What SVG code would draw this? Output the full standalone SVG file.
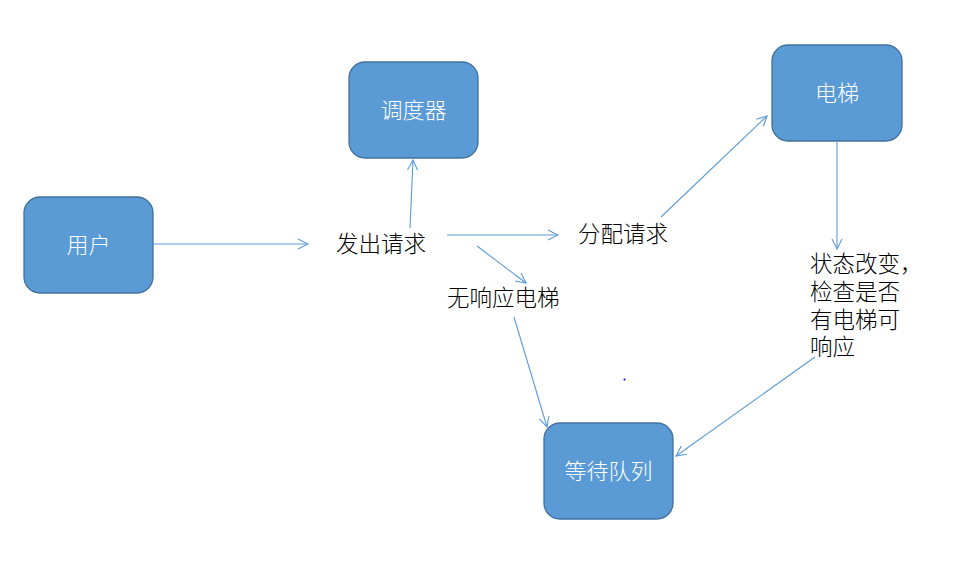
<svg xmlns="http://www.w3.org/2000/svg" width="976" height="569" viewBox="0 0 976 569">
<style>
.node rect{fill:#5B9BD5;stroke:#41719C;stroke-width:1.3}
.nt{fill:#fff;font-family:"Liberation Sans","Noto Sans CJK SC",sans-serif;font-size:22px;font-weight:300;text-anchor:middle;dominant-baseline:central}
.lbl{fill:#000;font-family:"Liberation Serif","Noto Sans CJK SC",serif;font-size:22.5px;font-weight:300;dominant-baseline:central}
.conn line{stroke:#5B9BD5;stroke-width:1.1;fill:none;marker-end:url(#arr)}
</style>
<defs>
<marker id="arr" viewBox="0 0 12 12" refX="11" refY="6" markerWidth="12" markerHeight="12" markerUnits="userSpaceOnUse" orient="auto">
<path d="M1,1 L11,6 L1,11" fill="none" stroke="#5B9BD5" stroke-width="1.1"/>
</marker>
</defs>
<rect width="976" height="569" fill="#fff"/>
<g id="user" class="node"><rect x="24" y="197" width="129" height="96" rx="16"/><text class="nt" x="88.5" y="245">用户</text></g>
<g id="scheduler" class="node"><rect x="349" y="62" width="129" height="96" rx="16"/><text class="nt" x="413.5" y="110">调度器</text></g>
<g id="elevator" class="node"><rect x="772" y="45" width="130" height="96" rx="16"/><text class="nt" x="837" y="93">电梯</text></g>
<g id="queue" class="node"><rect x="544" y="423" width="129" height="96" rx="16"/><text class="nt" x="608.5" y="471">等待队列</text></g>
<g id="labels">
<text class="lbl" x="336" y="244">发出请求</text>
<text class="lbl" x="578" y="234">分配请求</text>
<text class="lbl" x="447" y="298">无响应电梯</text>
<text class="lbl" x="810" y="264">状态改变，</text>
<text class="lbl" x="810" y="292">检查是否</text>
<text class="lbl" x="810" y="320">有电梯可</text>
<text class="lbl" x="810" y="347">响应</text>
</g>
<g id="connectors" class="conn">
<line x1="153" y1="244" x2="308" y2="244"/>
<line x1="410" y1="228" x2="413" y2="160"/>
<line x1="447" y1="235" x2="558" y2="235"/>
<line x1="477" y1="246" x2="526" y2="283"/>
<line x1="514" y1="317" x2="547" y2="427"/>
<line x1="661" y1="217" x2="767" y2="116"/>
<line x1="837" y1="141" x2="837" y2="249"/>
<line x1="815" y1="357" x2="676" y2="456"/>
</g>
<circle cx="624.5" cy="379.5" r="1" fill="#0000ff"/>
</svg>
